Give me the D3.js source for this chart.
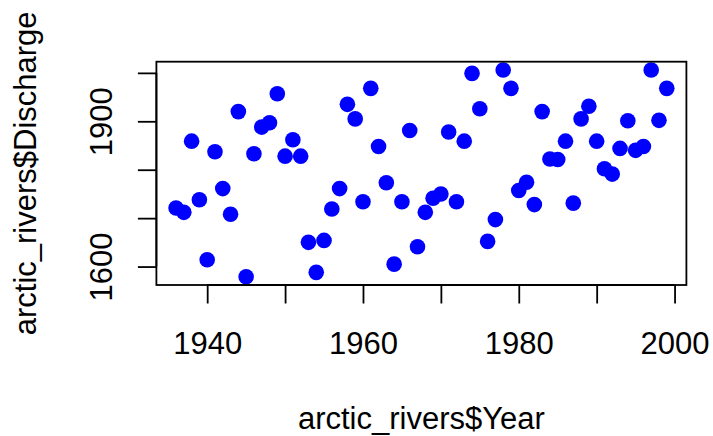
<!DOCTYPE html>
<html>
<head>
<meta charset="utf-8">
<script src="https://cdn.jsdelivr.net/npm/d3@7"></script>
<style>
  html, body { margin: 0; padding: 0; background: #fff; }
  svg { display: block; }
  text { font-family: "Liberation Sans", Arial, Helvetica, sans-serif; fill: #000; }
</style>
</head>
<body>
<svg id="chart" width="713" height="436"></svg>
<script>
// ---- data ----
const years = [1936,1937,1938,1939,1940,1941,1942,1943,1944,1945,1946,1947,1948,1949,
  1950,1951,1952,1953,1954,1955,1956,1957,1958,1959,1960,1961,1962,1963,1964,1965,
  1966,1967,1968,1969,1970,1971,1972,1973,1974,1975,1976,1977,1978,1979,1980,1981,
  1982,1983,1984,1985,1986,1987,1988,1989,1990,1991,1992,1993,1994,1995,1996,1997,1998,1999];
const discharge = [1721,1712,1859,1738,1614,1837,1761,1708,1920,1579,1833,1888,1897,1957,
  1828,1862,1828,1650,1588,1654,1719,1761,1935,1905,1734,1968,1848,1773,1605,1734,
  1881,1641,1712,1741,1750,1878,1734,1859,1999,1926,1652,1697,2006,1968,1757,1774,
  1728,1920,1822,1821,1859,1731,1905,1931,1859,1802,1791,1844,1901,1840,1848,2006,1902,1968];
const xTicks = [1940,1950,1960,1970,1980,1990,2000];
const xTickLabels = ["1940","","1960","","1980","","2000"];
const yTicks = [1600,1700,1800,1900,2000];
const yTickLabels = ["1600","","","1900",""];
const xTitle = "arctic_rivers$Year";
const yTitle = "arctic_rivers$Discharge";

// ---- layout ----
const svg = d3.select("#chart");
const pL = 156.4, pR = 686.4, pT = 61.7, pB = 285;
const fs = 31;
const FONT = '"Liberation Sans", Arial, Helvetica, sans-serif';

function rPad(ext) { const d = (ext[1] - ext[0]) * 0.04; return [ext[0] - d, ext[1] + d]; }

const x = d3.scaleLinear().domain(rPad(d3.extent(years))).range([pL, pR]);
const y = d3.scaleLinear().domain(rPad(d3.extent(discharge))).range([pB, pT]);

const data = years.map((yr, i) => ({ yr, v: discharge[i] }));

// points (clipped to plot region like R)
svg.append("clipPath").attr("id", "clip").append("rect")
  .attr("x", pL).attr("y", pT).attr("width", pR - pL).attr("height", pB - pT);
svg.append("g").attr("clip-path", "url(#clip)")
  .selectAll("circle").data(data).join("circle")
  .attr("cx", d => x(d.yr)).attr("cy", d => y(d.v)).attr("r", 7.8)
  .attr("fill", "#0000ff");

// box
svg.append("rect").attr("x", pL).attr("y", pT)
  .attr("width", pR - pL).attr("height", pB - pT)
  .attr("fill", "none").attr("stroke", "#000").attr("stroke-width", 1.8);

// x axis
const xAxis = d3.axisBottom(x).tickValues(xTicks).tickSize(18.5).tickPadding(0)
  .tickFormat((d, i) => xTickLabels[i]);
const gx = svg.append("g").attr("transform", `translate(0,${pB})`).call(xAxis);
gx.select(".domain").attr("d", `M${x(xTicks[0])},0H${x(xTicks[xTicks.length-1])}`)
  .attr("stroke", "#000").attr("stroke-width", 1.8);
gx.selectAll(".tick line").attr("stroke", "#000").attr("stroke-width", 1.8);
gx.selectAll(".tick text").attr("font-size", fs).attr("dy", null).attr("y", 69.3)
  .attr("font-family", FONT).attr("fill", "#000");

// y axis
const yAxis = d3.axisLeft(y).tickValues(yTicks).tickSize(18.5).tickPadding(0)
  .tickFormat((d, i) => yTickLabels[i]);
const gy = svg.append("g").attr("transform", `translate(${pL},0)`).call(yAxis);
gy.select(".domain").attr("d", `M0,${y(yTicks[0])}V${y(yTicks[yTicks.length-1])}`)
  .attr("stroke", "#000").attr("stroke-width", 1.8);
gy.selectAll(".tick line").attr("stroke", "#000").attr("stroke-width", 1.8);
gy.selectAll(".tick text").attr("font-size", fs)
  .attr("x", null).attr("dy", null)
  .attr("text-anchor", "middle")
  .attr("transform", `translate(${111.7 - pL},0) rotate(-90)`)
  .attr("font-family", FONT).attr("fill", "#000");

// titles
svg.append("text").attr("x", (pL + pR) / 2).attr("y", 429)
  .attr("text-anchor", "middle").attr("font-size", fs).text(xTitle);
svg.append("text").attr("transform", `translate(36,${(pT + pB) / 2}) rotate(-90)`)
  .attr("text-anchor", "middle").attr("font-size", fs).text(yTitle);
</script>
</body>
</html>
